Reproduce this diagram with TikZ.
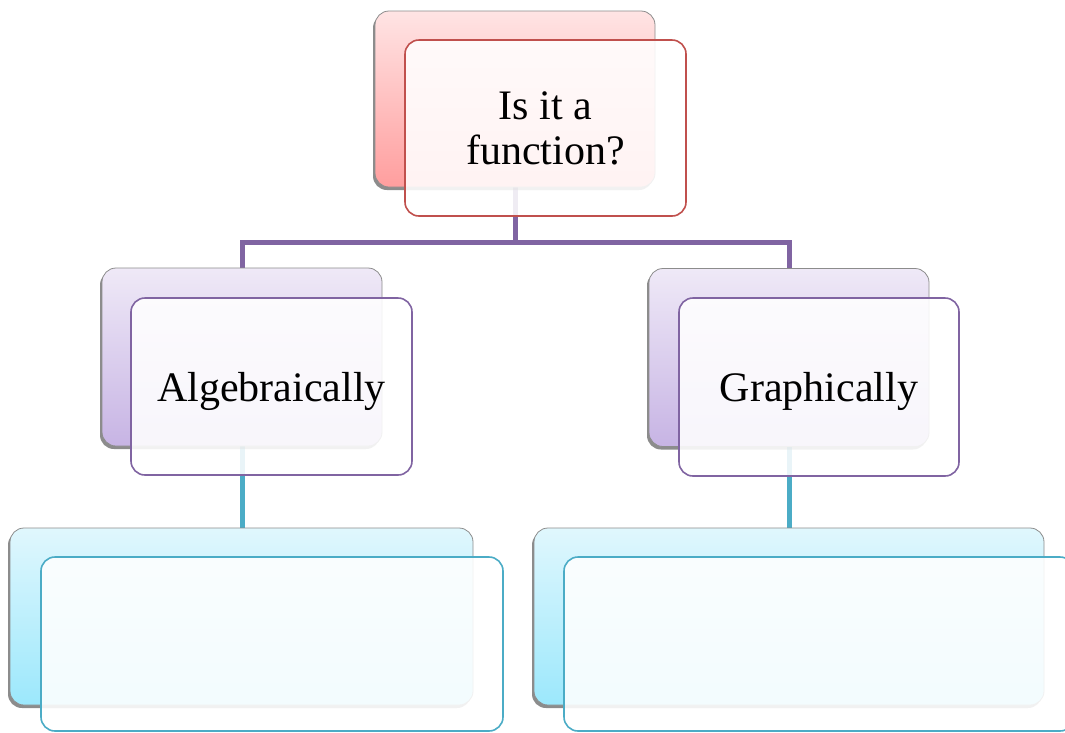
\documentclass[tikz,border=0pt]{standalone}
\usepackage{fontspec}
\setmainfont{Liberation Serif}
\usetikzlibrary{shadows,backgrounds}
\definecolor{redline}{HTML}{C0504D}
\definecolor{purpline}{HTML}{8064A2}
\definecolor{tealline}{HTML}{4BACC6}
\definecolor{pinktop}{RGB}{255,228,228}
\definecolor{pinkbot}{RGB}{255,158,158}
\definecolor{purptop}{RGB}{239,233,247}
\definecolor{purpbot}{RGB}{199,180,228}
\definecolor{tealtop}{RGB}{224,247,253}
\definecolor{tealbot}{RGB}{156,232,252}
\tikzset{
  backbox/.style={draw=black!45, line width=0.8pt, rounded corners=14pt, inner sep=0pt,
    drop shadow={shadow xshift=-2pt, shadow yshift=-3pt, opacity=0.45, fill=black}},
  frontbox/.style={draw=#1, line width=1.6pt, rounded corners=14pt, inner sep=0pt,
    fill=white, fill opacity=0.88, text opacity=1, align=center,
    font=\fontsize{42}{45}\selectfont},
  conn/.style={line width=5pt, draw=#1},
}
\begin{document}
\begin{tikzpicture}[x=1pt,y=-1pt]
\useasboundingbox (0,0) rectangle (1065,732);
\clip (0,0) rectangle (1065,732);
% level 1
\node[backbox, top color=pinktop, bottom color=pinkbot, minimum width=280pt, minimum height=176pt] (qb) at (515,99) {};
\node[frontbox=redline, minimum width=281pt, minimum height=176pt] (qf) at (545.5,128) {Is it a\\function?};
% level 2
\node[backbox, top color=purptop, bottom color=purpbot, minimum width=280pt, minimum height=178pt] (ab) at (242,357) {};
\node[frontbox=purpline, minimum width=281pt, minimum height=177pt, text depth=0pt] (af) at (271.5,386.5) {Algebraically};
\node[backbox, top color=purptop, bottom color=purpbot, minimum width=280pt, minimum height=178pt] (gb) at (789,357.5) {};
\node[frontbox=purpline, minimum width=280pt, minimum height=178pt, text depth=0pt] (gf) at (819,387) {Graphically};
% level 3
\node[backbox, top color=tealtop, bottom color=tealbot, minimum width=463pt, minimum height=177pt] (lb) at (241.5,616.5) {};
\node[frontbox=tealline, minimum width=462pt, minimum height=174pt] (lf) at (272,644) {};
\node[backbox, top color=tealtop, bottom color=tealbot, minimum width=510pt, minimum height=177pt] (rb) at (789,616.5) {};
\node[frontbox=tealline, minimum width=510pt, minimum height=174pt] (rf) at (819,644) {};
% connectors
\coordinate (bus) at (515,242);
\begin{pgfonlayer}{background}
\draw[conn=purpline] (qb.south) -- (bus);
\draw[conn=purpline] (ab.north) |- (bus) -| (gb.north);
\draw[conn=tealline] (ab.south) -- (ab.south |- lb.north);
\draw[conn=tealline] (gb.south) -- (gb.south |- rb.north);
\end{pgfonlayer}
\end{tikzpicture}
\end{document}
